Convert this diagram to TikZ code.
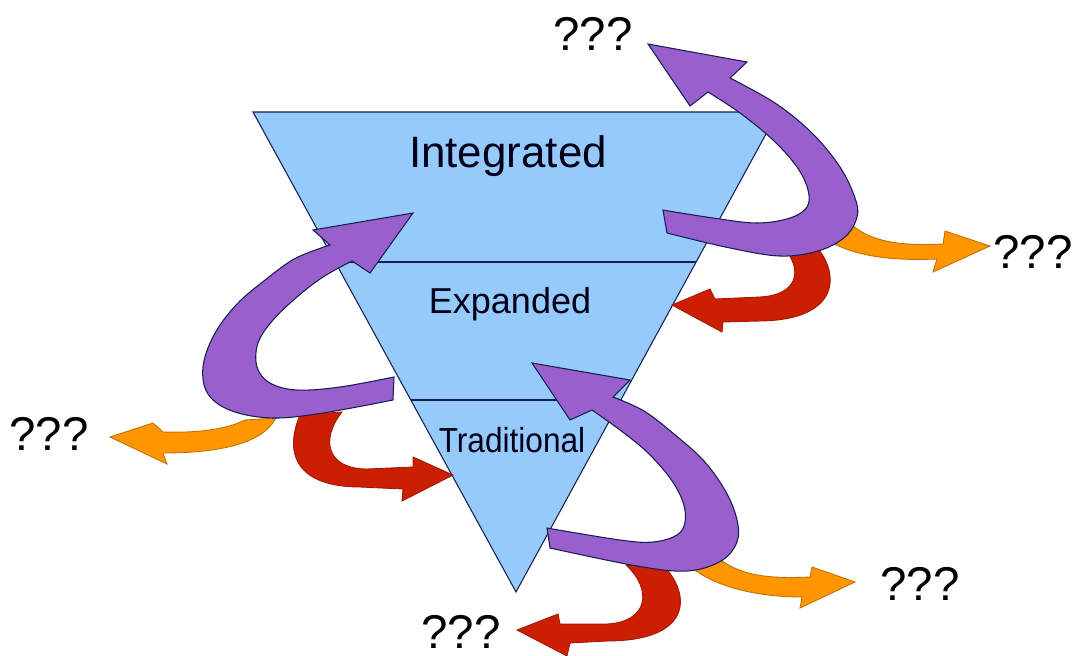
\documentclass[tikz,border=0pt]{standalone}
\usepackage{fontspec}
\setmainfont{Liberation Sans}
\usepackage{tikz}
\definecolor{funnelblue}{RGB}{150,202,250}
\definecolor{edgenavy}{RGB}{20,30,80}
\definecolor{loopviolet}{RGB}{153,95,204}
\definecolor{sideorange}{RGB}{255,150,0}
\definecolor{backred}{RGB}{204,30,0}

\begin{document}
\begin{tikzpicture}[x=0.02cm, y=-0.02cm,
		funnel/.style={fill=funnelblue, draw=edgenavy, line width=0.6pt},
		violetarrow/.style={fill=loopviolet, draw=edgenavy, line width=0.6pt},
		orangearrow/.style={fill=sideorange, draw=sideorange!75!black, line width=0.5pt},
		redarrow/.style={fill=backred, draw=backred!80!black, line width=0.5pt},
		level/.style={font=\fontsize{#1}{#1}\selectfont, text=black!90!blue, anchor=base},
		qmark/.style={font=\fontsize{27}{27}\selectfont, anchor=base}]
		%%%%% START %%%%%
		
		\useasboundingbox (0, 0) rectangle (1083, 656);
		
		% funnel
		\draw[funnel] (253, 112) -- (778, 112) -- (516, 592) -- cycle;
		\draw[edgenavy, line width=0.6pt] (335, 262) -- (696, 262);
		\draw[edgenavy, line width=0.6pt] (411, 400) -- (621, 400);
		
		\node[level=25] (integ) at (508, 167) {Integrated};
		\node[level=20.5] (expand) at (510, 313) {Expanded};
		\node[level=18] (trad) at (512, 452) {\scalebox{1}[1.1]{Traditional}};
		
		% orange and red arrows (under the violet ones)
		\draw[orangearrow] (852, 225) .. controls (872, 242) and (900, 246) .. (943, 244)
			-- (945, 231) -- (990, 246) -- (933, 272) -- (937, 259)
			.. controls (890, 261) and (858, 256) .. (832, 243) -- cycle;
		\draw[redarrow] (815, 245) .. controls (840, 272) and (842, 320) .. (760, 321) -- (723, 322)
			-- (722, 332) -- (672, 305) -- (710, 289) -- (715, 299)
			-- (760, 297) .. controls (798, 295) and (803, 270) .. (784, 248) -- cycle;
		
		\draw[orangearrow] (245, 420) .. controls (225, 430) and (195, 433) .. (163, 432)
			-- (153, 423) -- (110, 437) -- (167, 464) -- (163, 453)
			.. controls (215, 453) and (262, 445) .. (276, 418) -- cycle;
		\draw[redarrow] (300, 415) .. controls (283, 455) and (298, 487) .. (360, 487) -- (403, 489)
			-- (402, 501) -- (453, 475) -- (413, 457) -- (413, 467)
			-- (367, 469) .. controls (327, 469) and (320, 440) .. (342, 412) -- cycle;
		
		\draw[orangearrow] (718, 558) .. controls (740, 575) and (765, 579) .. (810, 577)
			-- (812, 567) -- (855, 582) -- (800, 608) -- (802, 597)
			.. controls (760, 597) and (715, 588) .. (690, 566) -- cycle;
		\draw[redarrow] (663, 565) .. controls (692, 595) and (692, 641) .. (607, 641) -- (570, 643)
			-- (567, 656) -- (517, 630) -- (558, 614) -- (560, 624)
			-- (607, 624) .. controls (648, 622) and (653, 590) .. (626, 565) -- cycle;
		
		% violet loops
		\draw[violetarrow] (663, 210) -- plot[smooth, tension=0.6] coordinates {(667, 233) (730, 248) (780, 256) (818, 251) (845, 237) (857, 217) (855, 198) (840, 167) (812, 133) (775, 103) (730, 78)}
			-- (747, 62) -- (648, 44) -- (690, 106) -- (708, 92)
			-- plot[smooth, tension=0.6] coordinates {(708, 92) (740, 113) (773, 140) (797, 167) (808, 190) (807, 207) (790, 218) (757, 223) (713, 218) (663, 210)} -- cycle;
		
		\draw[violetarrow] (394, 377) -- plot[smooth, tension=0.6] coordinates {(393, 400) (323, 413) (273, 418) (232, 411) (208, 394) (203, 367) (214, 335) (237, 304) (269, 277) (296, 258) (330, 245)}
			-- (313, 230) -- (413, 213) -- (370, 273) -- (352, 261)
			-- plot[smooth, tension=0.6] coordinates {(352, 261) (323, 277) (297, 297) (273, 320) (258, 343) (257, 367) (270, 383) (297, 390) (340, 387) (394, 377)} -- cycle;
		
		\draw[violetarrow] (547, 528) -- plot[smooth, tension=0.6] coordinates {(550, 548) (637, 566) (687, 571) (721, 561) (737, 542) (737, 520) (726, 492) (704, 461) (674, 434) (644, 411) (613, 397)}
			-- (630, 380) -- (532, 363) -- (570, 420) -- (592, 410)
			-- plot[smooth, tension=0.6] coordinates {(592, 410) (620, 430) (647, 452) (670, 478) (683, 502) (685, 522) (677, 535) (653, 542) (620, 540) (547, 528)} -- cycle;
		
		% question marks
		\node[qmark] (qtop) at (593, 50) {???};
		\node[qmark] (qright) at (1033, 268) {???};
		\node[qmark] (qleft) at (49, 450) {???};
		\node[qmark] (qlowright) at (920, 600) {???};
		\node[qmark] (qbottom) at (461, 648) {???};
		
		%%%%% END %%%%%
	\end{tikzpicture}
\end{document}
